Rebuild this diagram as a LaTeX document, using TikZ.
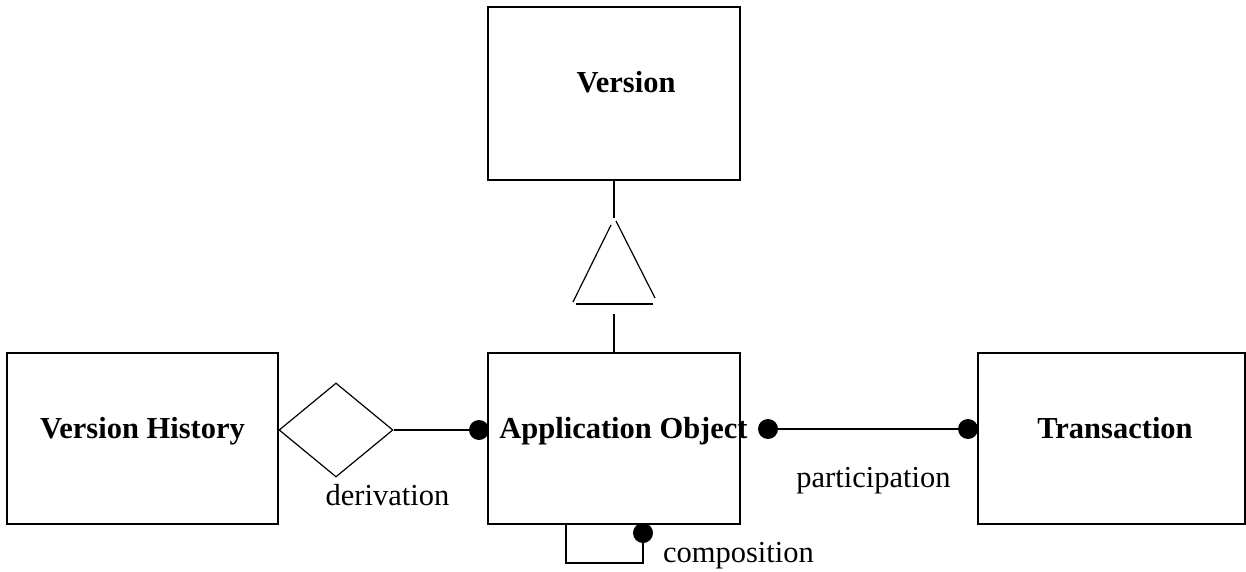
\documentclass[tikz,border=0pt]{standalone}
\usepackage{fontspec}
\setmainfont{Liberation Serif}
\usetikzlibrary{arrows,positioning,shapes}

\begin{document}
\begin{tikzpicture}
    [
      x=1pt, y=-1pt,
      entity/.style={rectangle,draw,line width=1.2pt,minimum width=252pt,minimum height=171pt},
      title/.style={anchor=base,inner sep=0pt,font=\fontsize{30.5}{36}\selectfont\bfseries},
      relation/.style={diamond,draw,line width=1.2pt,minimum width=114pt,minimum height=94pt,inner sep=0pt},
      ball/.style={circle,fill,inner sep=0pt,minimum size=20pt},
      role/.style={anchor=base,inner sep=0pt,font=\fontsize{30.5}{36}\selectfont},
      link/.style={-,line width=1.2pt},
    ]
    \useasboundingbox (0,0) rectangle (1246,572);

    \node (version) [entity, minimum height=173pt] at (614, 93.5) {};
    \node (appobj) [entity] at (614, 438.5) {};
    \node (history) [entity, minimum width=271pt] at (142.5, 438.5) {};
    \node (trans) [entity, minimum width=267pt] at (1111.5, 438.5) {};
    \node (tversion) [title] at (626, 93) {Version};
    \node (tappobj) [title] at (623.5, 438) {Application Object};
    \node (thistory) [title] at (142.5, 438) {Version History};
    \node (ttrans) [title] at (1115, 438) {Transaction};
    \node (deriv) [relation] at (336, 430) {};
    \node (dotapp_l) [ball] at (479, 430) {};
    \node (dotapp_r) [ball] at (768, 429) {};
    \node (dottrans) [ball] at (968, 429) {};
    \node (dotcomp) [ball] at (643, 533) {};
    \node (lderiv) [role] at (387.5, 505) {derivation};
    \node (lpart) [role] at (873.5, 487) {participation};
    \node (lcomp) [role] at (738.5, 562) {composition};

    % inheritance triangle
    \coordinate (isa_top) at (614, 218);
    \coordinate (isa_bot) at (614, 314);
    \coordinate (tri_l1) at (611, 225);
    \coordinate (tri_l2) at (573, 302);
    \coordinate (tri_r1) at (616, 221);
    \coordinate (tri_r2) at (655, 298);
    \coordinate (base_l) at (576, 304);
    \coordinate (base_r) at (653, 304);
    \coordinate (loop_a) at (566, 563);
    \coordinate (loop_b) at (643, 563);

    \path
    (version.south) edge [link] (isa_top)
    (isa_bot) edge [link] (appobj.north)
    (tri_l1) edge [link] (tri_l2)
    (tri_r1) edge [link] (tri_r2)
    (base_l) edge [link] (base_r)
    (deriv.east) edge [link] (dotapp_l)
    (dotapp_r) edge [link] (dottrans)
    ;
    \draw [link] (appobj.south -| loop_a) -- (loop_a) -- (loop_b) -- (dotcomp);

  \end{tikzpicture}
\end{document}
